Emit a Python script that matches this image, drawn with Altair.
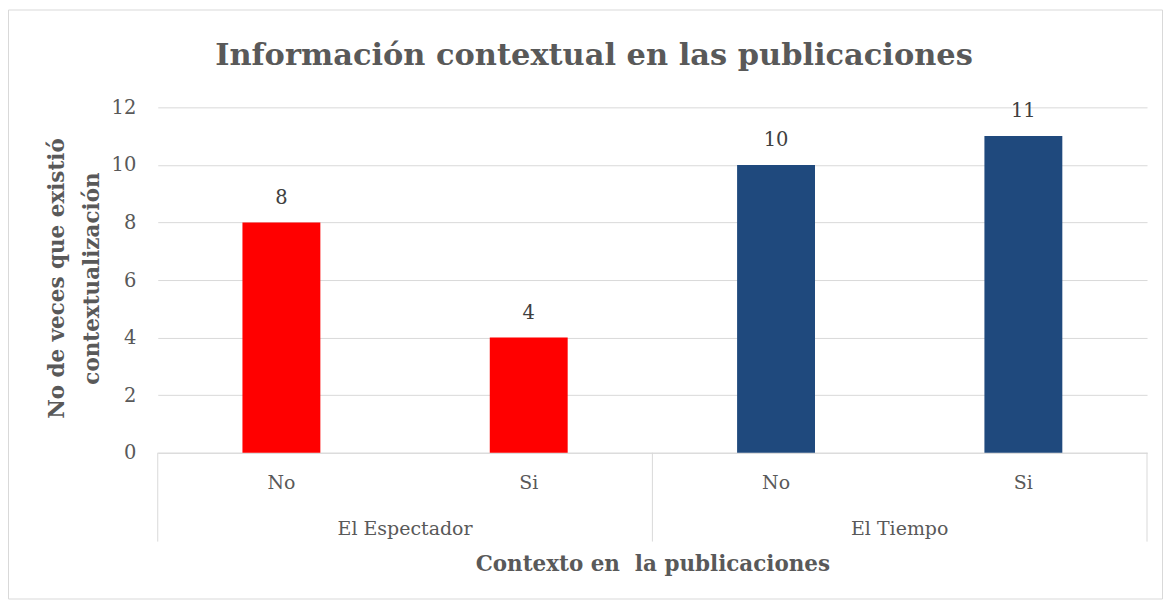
import altair as alt
import pandas as pd

# ---- data ----
medios = ["El Espectador", "El Espectador", "El Tiempo", "El Tiempo"]
respuestas = ["No", "Si", "No", "Si"]
valores = [8, 4, 10, 11]
colores = ["#FF0000", "#FF0000", "#1F497D", "#1F497D"]
grupos = ["El Espectador", "El Tiempo"]
y_ticks = [0, 2, 4, 6, 8, 10, 12]

titulo = "Información contextual en las publicaciones"
titulo_y = ["No de veces que existió", "contextualización"]
titulo_x = "Contexto en\u00a0 la publicaciones"

keys = [m + "|" + r for m, r in zip(medios, respuestas)]
df = pd.DataFrame({"key": keys, "medio": medios, "resp": respuestas,
                   "valor": valores, "color": colores})

FONT = "DejaVu Serif"
GREY = "#595959"
GRID = "#d9d9d9"
W, H = 991, 346

xscale = alt.Scale(domain=keys, paddingInner=0, paddingOuter=0)

bars = alt.Chart(df).mark_bar(width=alt.RelativeBandSize(0.315)).encode(
    x=alt.X("key:N", scale=xscale, title=titulo_x,
            axis=alt.Axis(labelExpr="split(datum.label, '|')[1]", labelAngle=0,
                          labelFont=FONT, labelFontSize=19, labelColor=GREY,
                          labelBaseline="middle", labelPadding=30,
                          ticks=False, grid=False, domainColor=GRID, domainWidth=1,
                          titleFont=FONT, titleFontSize=21.5, titleFontWeight="bold",
                          titleColor=GREY, titleY=112, titleBaseline="middle")),
    y=alt.Y("valor:Q", scale=alt.Scale(domain=[0, 12]), title=titulo_y,
            axis=alt.Axis(values=y_ticks, domain=False, ticks=False,
                          gridColor=GRID, gridWidth=1,
                          labelFont=FONT, labelFontSize=19.5, labelColor=GREY,
                          labelPadding=22,
                          titleFont=FONT, titleFontSize=21.5, titleFontWeight="bold",
                          titleColor=GREY, titleAngle=270, titleX=-100, titleY=171,
                          titleAlign="center", titleBaseline="middle",
                          titleLineHeight=35)),
    color=alt.Color("color:N", scale=None),
)

vlabels = alt.Chart(df).mark_text(font=FONT, fontSize=19.5, color="#404040",
                                  baseline="middle", dy=-25).encode(
    x=alt.X("key:N", scale=xscale),
    y=alt.Y("valor:Q"),
    text=alt.Text("valor:Q"),
)

gdf = pd.DataFrame({"key": [g + "|No" for g in grupos], "grupo": grupos})
glabels = alt.Chart(gdf).mark_text(font=FONT, fontSize=19, color=GREY,
                                   baseline="middle").encode(
    x=alt.X("key:N", scale=xscale, bandPosition=1),
    y=alt.value(H + 76),
    text="grupo:N",
)

sep_left = alt.Chart(gdf).mark_rule(color=GRID, strokeWidth=1).encode(
    x=alt.X("key:N", scale=xscale, bandPosition=0),
    y=alt.value(H), y2=alt.value(H + 89),
)
sep_right = alt.Chart(pd.DataFrame({"key": [keys[-1]]})).mark_rule(
    color=GRID, strokeWidth=1).encode(
    x=alt.X("key:N", scale=xscale, bandPosition=1),
    y=alt.value(H), y2=alt.value(H + 89),
)

tdf = pd.DataFrame({"t": [titulo]})
title_mark = alt.Chart(tdf).mark_text(font=FONT, fontSize=30.5, fontWeight="bold",
                                      color=GREY, align="center",
                                      baseline="alphabetic").encode(
    x=alt.value(437), y=alt.value(-42), text="t:N")

border = alt.Chart(pd.DataFrame({"a": [0]})).mark_rect(
    fillOpacity=0, stroke=GRID, strokeWidth=1).encode(
    x=alt.value(-149.5), x2=alt.value(W + 15.5),
    y=alt.value(-97.5), y2=alt.value(H + 146.5),
)

chart = alt.layer(border, bars, vlabels, glabels, sep_left, sep_right, title_mark).properties(
    width=W, height=H,
    autosize=alt.AutoSizeParams(type="none"),
    padding={"left": 150, "top": 99, "right": 17, "bottom": 148},
).configure_view(stroke=None)

chart.save("out.html", embed_options={"renderer": "svg", "actions": False})
